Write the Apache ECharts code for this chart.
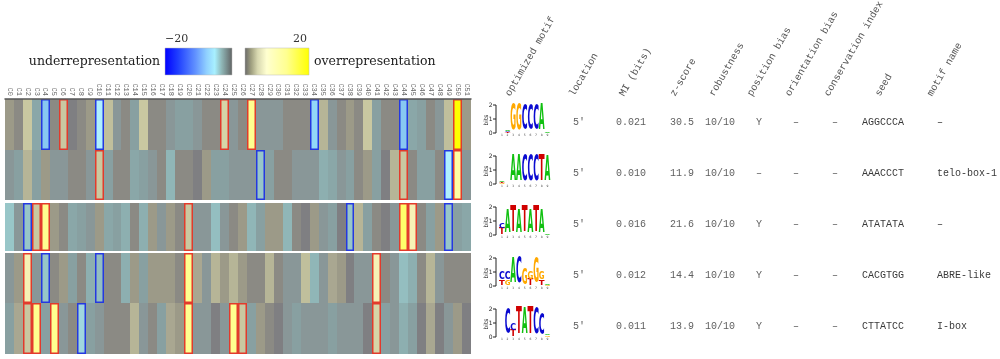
<!DOCTYPE html>
<html><head><meta charset="utf-8">
<script src="https://cdn.jsdelivr.net/npm/echarts@6/dist/echarts.min.js"></script>
<style>html,body{margin:0;padding:0;background:#fff}#c{width:1000px;height:359px}</style>
</head><body><div id="c"></div>
<script>
// ---------- data ----------
const columns = ['C0','C1','C2','C3','C4','C5','C6','C7','C8','C9','C10','C11','C12','C13','C14','C15','C16','C17','C18','C19','C20','C21','C22','C23','C24','C25','C26','C27','C28','C29','C30','C31','C32','C33','C34','C35','C36','C37','C38','C39','C40','C41','C42','C43','C44','C45','C46','C47','C48','C49','C50','C51'];
const motifs = ['AGGCCCA','AAACCCT','ATATATA','CACGTGG','CTTATCC'];

const zRow1 = [1,0,3,-2,-10,0,3,-0.5,0,1,-8,2.5,-1,0,-1.5,3,0,0,-1,-1.5,-1.5,-1,0,0,4,-1,
               0,10,-1,-1,-1,0,0,0,-9,2,-1,0,1,0,3,-1.5,0,0,-10,-2,-1.5,0,-1,2.5,20,1];
const zRow2 = [-1,-1.5,2,-1.5,1,-1,-1,0,0,-1,3,-1.5,0,0,-2,-1.5,-1,0,-3,0,0,-0.5,1,-1.5,-1.5,-1,
               -1,-1,-4,-1.5,0,0,-1,-1,-1,-2.5,-2,-1,-1.5,0,1,-1.5,-0.5,2,3,0,-1.5,-1.5,0,-8,8,-1];
const zRow3 = [-4,-1,-4,3,10,1,0,-2,-1.5,-1,1,-2,-1.5,-2.5,0,-2.5,1,-1,1,0,3,-1,-1,-3.5,-1,0,
               1,-3,-1.5,1,1,-3,0,-0.5,1,-1,-1.5,-0.5,-4,2,-1.5,0,-0.5,-1,12,6,0,-1.5,1,-4,-1.5,-2];
const zRow4 = [-1,1,6,-1,-4,0,1,-1.5,0,-2.5,-3.5,0,0,-2.5,1,-1.5,1,1,1,0,10,1.5,-1,2,1,2,
               1,0,0,2,0,-1,-1,2.5,-3,-1,1.5,1,-0.5,-1,-1,6,0,-1,-3.5,-2.5,0,2,-1,0,0,0];
const zRow5 = [-1.5,1.5,3,10,-1.5,9,-1,0,-5,-1.5,-1,0,0,0,2,-1,0,-1.5,1.5,1,10,-1,-1,-0.5,-1,9,
               3,-1.5,1,0,-0.5,-1,-1.5,-1,-1,-1,-1.5,-1,-1,-1,-0.5,4,-1.5,-1,-2.5,-1.5,-0.5,1.5,-0.5,-1,1,-0.5];

// significant cells [row, column]
const overCells = [[0,6],[0,24],[0,27],[0,50],[1,10],[1,44],[1,50],[2,3],[2,4],[2,20],[2,44],[2,45],
                   [3,2],[3,20],[3,41],[4,2],[4,3],[4,5],[4,20],[4,25],[4,26],[4,41]];
const underCells = [[0,4],[0,10],[0,34],[0,44],[1,28],[1,49],[2,2],[2,38],[2,49],[3,4],[3,10],[4,8]];

const tableHeaders = ['optimized motif','location','MI (bits)','z-score','robustness','position bias','orientation bias','conservation index','seed','motif name'];
const locations = ['5\u2032','5\u2032','5\u2032','5\u2032','5\u2032'];
const miBits = ['0.021','0.010','0.016','0.012','0.011'];
const zScores = ['30.5','11.9','21.6','14.4','13.9'];
const robustness = ['10/10','10/10','10/10','10/10','10/10'];
const positionBias = ['Y','\u2013','Y','Y','Y'];
const orientationBias = ['\u2013','\u2013','\u2013','\u2013','\u2013'];
const conservationIndex = ['\u2013','\u2013','\u2013','\u2013','\u2013'];
const seeds = ['AGGCCCA','AAACCCT','ATATATA','CACGTGG','CTTATCC'];
const motifNames = ['\u2013','telo-box-1','\u2013','ABRE-like','I-box'];

// sequence logos: per position, letters bottom->top with height in bits
const logo1 = [[],[['T',0.06],['C',0.08],['A',0.1]],[['G',1.88]],[['G',1.88]],[['C',1.78]],[['C',1.78]],[['C',1.78]],[['A',1.85]],[['A',0.05]]];
const logo2 = [[['G',0.05],['T',0.07],['A',0.12]],[],[['A',1.88]],[['A',1.88]],[['C',1.85]],[['C',1.85]],[['C',1.85]],[['T',1.85]],[['A',1.8]]];
const logo3 = [[['T',0.45],['C',0.4]],[['A',1.65]],[['T',1.88]],[['A',1.65]],[['T',1.88]],[['A',1.7]],[['T',1.88]],[['A',1.7]],[['A',0.05]]];
const logo4 = [[['T',0.4],['C',0.5]],[['G',0.4],['C',0.5]],[['A',1.75]],[['C',1.85]],[['G',1.15]],[['T',0.45],['G',0.55]],[['G',1.8]],[['T',0.4],['G',0.55]],[['G',0.08],['A',0.12]]];
const logo5 = [[],[['C',1.8]],[['T',0.45],['C',0.45]],[['T',1.95]],[['A',1.85]],[['T',1.95]],[['C',1.85]],[['C',1.5]],[['G',0.1],['A',0.12]]];
const logos = [logo1, logo2, logo3, logo4, logo5];

// ---------- styles ----------
const scaleValues = [-20,-10,-9,-8,-5,-4,-3.5,-3,-2.5,-2,-1.5,-1,-0.5,0,1,1.5,2,2.5,3,4,6,8,10,12,20];
const scaleColors = ['#0000ff','#88c8f2','#92d8f8','#b0f0ff','#a0d6de','#98c6c8','#94bec0','#90b6b7','#8dafb0','#8aa7a8','#88a0a1','#899798','#7f7f82','#8b8a84','#9c9a88','#a9a791','#b6b597','#c0bf9c','#c9c8a1','#d6d5a8','#f6f2b6','#ffffa4','#ffff90','#ffff6a','#ffff00'];
const pieces = scaleValues.map((v,i)=>({
  gte: i===0 ? -1000 : (scaleValues[i-1]+v)/2,
  lt: i===scaleValues.length-1 ? 1000 : (v+scaleValues[i+1])/2,
  color: scaleColors[i]
}));
const letterColor = {A:'#10c010', C:'#0a0ad0', G:'#ffa800', T:'#d00000'};
const letterAdv = {A:0.774, C:0.734, G:0.821, T:0.682};
const colOffset = [9, 83, 126, 180, 215, 266, 303, 342, 372, 447]; // table columns, px from table left
const headerX = [512, 576, 626, 677, 716, 754, 792, 831, 882, 934];
const mono = 'Liberation Mono';

// ---------- build ----------
const flagOf = {};
overCells.forEach(([r,c])=>flagOf[r+'_'+c]=1);
underCells.forEach(([r,c])=>flagOf[r+'_'+c]=-1);
const heatData = [];
[zRow1,zRow2,zRow3,zRow4,zRow5].forEach((arr,r)=>arr.forEach((v,c)=>heatData.push([c,r,v,flagOf[r+'_'+c]||0])));

function renderCell(params, api){
  const col = api.value(0), row = api.value(1);
  const c = api.coord([col,row]); const s = api.size([1,1]);
  const bx = Math.round((c[0]-(col+0.5)*s[0])*1000)/1000;
  const by = Math.round((c[1]-(row+0.5)*s[1])*1000)/1000;
  const sw = Math.round(s[0]*10000)/10000, sh = Math.round(s[1]*10000)/10000;
  const x0 = Math.round(bx + col*sw), x1 = Math.round(bx + (col+1)*sw);
  let y0 = Math.round(by + row*sh), y1 = Math.round(by + (row+1)*sh);
  if (row===1) y1 -= 1;
  if (row===2) { y0 += 2; y1 -= 1; }
  if (row===3) { y0 += 1; }
  const children = [{type:'rect', shape:{x:x0,y:y0,width:x1-x0,height:y1-y0}, style:{fill:api.visual('color')}}];
  const f = api.value(3);
  if (f) children.push({type:'rect', z2:5, shape:{x:x0+0.75,y:y0+0.75,width:x1-x0-1.5,height:y1-y0-1.5},
    style:{fill:null, stroke: f>0 ? '#e23a2c' : '#2438e0', lineWidth:1.5}});
  return {type:'group', children};
}

function renderRow(params, api){
  const r = params.dataIndex;
  const c = api.coord([0, r]);
  const left = c[0], cy = c[1];
  const ty = cy - 2.5;
  const kids = [];
  const cells = [locations[r], miBits[r], zScores[r], robustness[r], positionBias[r], orientationBias[r], conservationIndex[r], seeds[r], motifNames[r]];
  cells.forEach((t,i)=>{
    kids.push({type:'text', x:left+colOffset[i+1], y:ty, style:{text:t, font:'10px '+mono, fill: i===7||i===8 ? '#3a3a3a' : '#606060', align:'left', verticalAlign:'middle'}});
  });
  // logo axis
  const y0 = cy + 8.5, bitPx = 14, ax = left + 6;
  kids.push({type:'line', shape:{x1:ax, y1:y0, x2:ax, y2:y0-2*bitPx}, style:{stroke:'#222', lineWidth:1}});
  [0,1,2].forEach(b=>{
    kids.push({type:'line', shape:{x1:ax-3, y1:y0-b*bitPx, x2:ax, y2:y0-b*bitPx}, style:{stroke:'#222', lineWidth:1}});
    kids.push({type:'text', x:ax-3.5, y:y0-b*bitPx, style:{text:String(b), font:'6px DejaVu Sans', fill:'#222', align:'right', verticalAlign:'middle'}});
  });
  kids.push({type:'text', x:ax-10, y:y0-bitPx+1, rotation:Math.PI/2, style:{text:'bits', font:'6px DejaVu Sans', fill:'#222', align:'center', verticalAlign:'middle'}});
  // letters
  const posW = 5.7, fs = 20;
  logos[r].forEach((stack,p)=>{
    let base = y0;
    const cx = left + colOffset[0] + p*posW + posW/2;
    stack.forEach(([L,h])=>{
      const hp = h*bitPx;
      if (hp >= 0.4) {
        kids.push({type:'text', x:cx, y:base-hp/2,
          scaleX: posW*1.02/(letterAdv[L]*fs), scaleY: hp/(0.729*fs),
          style:{text:L, font:'bold '+fs+'px DejaVu Sans', fill:letterColor[L], align:'center', verticalAlign:'middle'}});
      }
      base -= hp;
    });
    kids.push({type:'text', x:cx, y:y0+2.5, style:{text:String(p+1), font:'3px DejaVu Sans', fill:'#444', align:'center', verticalAlign:'middle'}});
  });
  return {type:'group', children:kids};
}

const graphics = [
  {type:'text', x:160, y:62, style:{text:'underrepresentation', font:'12.5px DejaVu Serif', fill:'#222', align:'right', verticalAlign:'middle'}},
  {type:'text', x:314, y:62, style:{text:'overrepresentation', font:'12.5px DejaVu Serif', fill:'#222', align:'left', verticalAlign:'middle'}},
  {type:'text', x:165, y:39, style:{text:'\u221220', font:'11px DejaVu Serif', fill:'#333', align:'left', verticalAlign:'middle'}},
  {type:'text', x:307, y:39, style:{text:'20', font:'11px DejaVu Serif', fill:'#333', align:'right', verticalAlign:'middle'}},
  {type:'rect', shape:{x:165, y:48, width:67, height:27}, style:{stroke:'#bbb', lineWidth:0.5, fill:{type:'linear', x:0, y:0, x2:1, y2:0, colorStops:[
    {offset:0, color:'#0000ff'},{offset:0.2, color:'#2040ff'},{offset:0.45, color:'#6090ff'},{offset:0.62, color:'#90d0ff'},
    {offset:0.74, color:'#a8f0ff'},{offset:0.84, color:'#90b8b8'},{offset:1, color:'#606262'}]}}},
  {type:'rect', shape:{x:245, y:48, width:64, height:27}, style:{stroke:'#bbb', lineWidth:0.5, fill:{type:'linear', x:0, y:0, x2:1, y2:0, colorStops:[
    {offset:0, color:'#686868'},{offset:0.1, color:'#a0a080'},{offset:0.2, color:'#d8d8b0'},{offset:0.34, color:'#ffffd0'},
    {offset:0.65, color:'#ffff90'},{offset:1, color:'#ffff00'}]}}}
];
tableHeaders.forEach((h,i)=>graphics.push({type:'text', x:headerX[i], y:98, rotation:Math.PI/3,
  style:{text:h, font:'10px '+mono, fill:'#555', align:'left', verticalAlign:'bottom'}}));

const chart = echarts.init(document.getElementById('c'));
chart.setOption({
  animation:false,
  backgroundColor:'#fff',
  grid:[{left:5, top:99, width:466, height:255}, {left:490, top:99, width:510, height:255}],
  xAxis:[
    {type:'category', data:columns, position:'top', gridIndex:0, z:10,
     axisLine:{lineStyle:{color:'#555', width:1.5}}, axisTick:{show:false},
     axisLabel:{rotate:90, interval:0, fontSize:7, fontFamily:mono, color:'#666', margin:3}, splitLine:{show:false}},
    {type:'value', gridIndex:1, min:0, max:510, show:false}
  ],
  yAxis:[
    {type:'category', data:motifs, inverse:true, gridIndex:0, show:false},
    {type:'category', data:motifs, inverse:true, gridIndex:1, show:false}
  ],
  visualMap:{type:'piecewise', show:false, dimension:2, seriesIndex:0, pieces:pieces},
  graphic:graphics,
  series:[
    {type:'custom', xAxisIndex:0, yAxisIndex:0, data:heatData, renderItem:renderCell, encode:{x:0, y:1}},
    {type:'custom', xAxisIndex:1, yAxisIndex:1, data:motifs.map((m,i)=>[0,i]), renderItem:renderRow, encode:{x:0, y:1}}
  ]
});
</script></body></html>
